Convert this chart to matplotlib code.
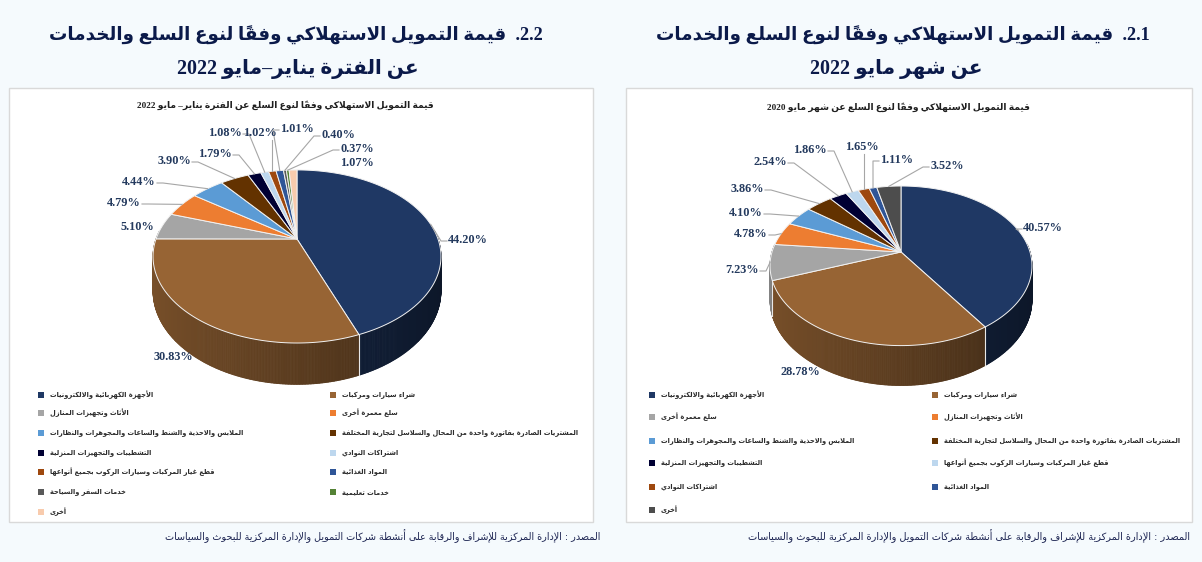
import matplotlib
matplotlib.use("Agg")
import matplotlib.pyplot as plt
import numpy as np
from matplotlib.patches import Polygon, Rectangle
from matplotlib.collections import PolyCollection
from matplotlib.colors import to_rgb

# ---------------- data ----------------
left_categories = [
    "الأجهزة الكهربائية والالكترونيات",
    "شراء سيارات ومركبات",
    "الأثاث وتجهيزات المنازل",
    "سلع معمرة أخرى",
    "الملابس والاحذية والشنط والساعات والمجوهرات والنظارات",
    "المشتريات الصادرة بفاتورة واحدة من المحال والسلاسل لتجارية المختلفة",
    "التشطيبات والتجهيزات المنزلية",
    "اشتراكات النوادي",
    "قطع غيار المركبات وسيارات الركوب بجميع أنواعها",
    "المواد الغذائية",
    "خدمات السفر والسياحة",
    "خدمات تعليمية",
    "أخرى",
]
left_values = [44.20, 30.83, 5.10, 4.79, 4.44, 3.90, 1.79, 1.08, 1.02, 1.01, 0.40, 0.37, 1.07]
left_colors = ["#1F3864", "#976434", "#A5A5A5", "#ED7D31", "#5B9BD5", "#633200",
               "#000033", "#BDD7EE", "#9E480E", "#2F5597", "#595959", "#548235", "#F8CBAD"]

right_categories = [
    "الأجهزة الكهربائية والالكترونيات",
    "شراء سيارات ومركبات",
    "سلع معمرة أخرى",
    "الأثاث وتجهيزات المنازل",
    "الملابس والاحذية والشنط والساعات والمجوهرات والنظارات",
    "المشتريات الصادرة بفاتورة واحدة من المحال والسلاسل لتجارية المختلفة",
    "التشطيبات والتجهيزات المنزلية",
    "قطع غيار المركبات وسيارات الركوب بجميع أنواعها",
    "اشتراكات النوادي",
    "المواد الغذائية",
    "أخرى",
]
right_values = [40.57, 28.78, 7.23, 4.78, 4.10, 3.86, 2.54, 1.86, 1.65, 1.11, 3.52]
right_colors = ["#1F3864", "#976434", "#A5A5A5", "#ED7D31", "#5B9BD5", "#633200",
                "#000033", "#BDD7EE", "#9E480E", "#2F5597", "#4D4D4D"]

left_heading = ["2.2.  قيمة التمويل الاستهلاكي وفقاً لنوع السلع والخدمات",
                "عن الفترة يناير–مايو 2022"]
right_heading = ["2.1.  قيمة التمويل الاستهلاكي وفقاً لنوع السلع والخدمات",
                 "عن شهر مايو 2022"]
left_chart_title = "قيمة التمويل الاستهلاكي وفقاً لنوع السلع عن الفترة يناير– مايو 2022"
right_chart_title = "قيمة التمويل الاستهلاكي وفقاً لنوع السلع عن شهر مايو 2020"
source_text = "المصدر : الإدارة المركزية للإشراف والرقابة على أنشطة شركات التمويل والإدارة المركزية للبحوث والسياسات"

# ---------------- Arabic shaping (presentation forms) + simple bidi ----------------
_D = {0x0626: 0xFE89, 0x0628: 0xFE8F, 0x062A: 0xFE95, 0x062B: 0xFE99, 0x062C: 0xFE9D,
      0x062D: 0xFEA1, 0x062E: 0xFEA5, 0x0633: 0xFEB1, 0x0634: 0xFEB5, 0x0635: 0xFEB9,
      0x0636: 0xFEBD, 0x0637: 0xFEC1, 0x0638: 0xFEC5, 0x0639: 0xFEC9, 0x063A: 0xFECD,
      0x0641: 0xFED1, 0x0642: 0xFED5, 0x0643: 0xFED9, 0x0644: 0xFEDD, 0x0645: 0xFEE1,
      0x0646: 0xFEE5, 0x0647: 0xFEE9, 0x064A: 0xFEF1}
_R = {0x0622: 0xFE81, 0x0623: 0xFE83, 0x0624: 0xFE85, 0x0625: 0xFE87, 0x0627: 0xFE8D,
      0x0629: 0xFE93, 0x062F: 0xFEA9, 0x0630: 0xFEAB, 0x0631: 0xFEAD, 0x0632: 0xFEAF,
      0x0648: 0xFEED, 0x0649: 0xFEEF}
_LA = {0x0622: 0xFEF5, 0x0623: 0xFEF7, 0x0625: 0xFEF9, 0x0627: 0xFEFB}


def _jt(c):
    o = ord(c)
    if o in _D or o == 0x0640:
        return "D"
    if o in _R:
        return "R"
    if 0x064B <= o <= 0x065F or o == 0x0670:
        return "T"
    return "U"


def _shape(s):
    toks = []
    for c in s:
        t = _jt(c)
        if t == "T" and toks:
            toks[-1][1] += c
            continue
        toks.append([c, "", t])
    merged = []
    k = 0
    while k < len(toks):
        b, m, t = toks[k]
        if ord(b) == 0x0644 and k + 1 < len(toks) and ord(toks[k + 1][0]) in _LA:
            merged.append(["LA" + toks[k + 1][0], m + toks[k + 1][1], "R"])
            k += 2
            continue
        merged.append([b, m, t])
        k += 1
    out = []
    for k, (b, m, t) in enumerate(merged):
        pt = merged[k - 1][2] if k > 0 else "U"
        nt = merged[k + 1][2] if k + 1 < len(merged) else "U"
        jp = t in "DR" and pt == "D"
        jn = t == "D" and nt in "DR"
        if b.startswith("LA"):
            g = chr(_LA[ord(b[2])] + (1 if jp else 0))
        else:
            o = ord(b)
            if o in _D:
                idx = 3 if (jp and jn) else 1 if jp else 2 if jn else 0
                g = chr(_D[o] + idx)
            elif o in _R:
                g = chr(_R[o] + (1 if jp else 0))
            elif o == 0x0621:
                g = "\uFE80"
            else:
                g = b
        out.append(g + m)
    return out


def _ltr(c):
    return c.isascii() and (c.isalnum() or c == "%")


def ar(s):
    cl = _shape(s)
    n = len(cl)
    cls = []
    for i, c in enumerate(cl):
        ch = c[0]
        if _ltr(ch):
            cls.append("L")
        elif ch in ".," and 0 < i < n - 1 and _ltr(cl[i - 1][0]) and cl[i + 1][0].isdigit():
            cls.append("L")
        else:
            cls.append("R")
    runs = []
    for c, t in zip(cl, cls):
        if runs and runs[-1][0] == t:
            runs[-1][1].append(c)
        else:
            runs.append([t, [c]])
    res = ""
    for t, cs in reversed(runs):
        res += "".join(cs) if t == "L" else "".join(reversed(cs))
    return res


# ---------------- figure ----------------
W, H = 1202, 562
fig = plt.figure(figsize=(W / 100, H / 100), dpi=100, facecolor="#F5FAFD")
ax = fig.add_axes([0, 0, 1, 1])
ax.set_xlim(0, W)
ax.set_ylim(H, 0)
ax.axis("off")
renderer = fig.canvas.get_renderer()

SERIF_AR = ["Liberation Serif", "DejaVu Sans"]


def fit_text(x, y, s, width, size, ha="center", maxsize=None, **kw):
    t = ax.text(x, y, s, fontsize=size, ha=ha, va="center", **kw)
    w = t.get_window_extent(renderer).width
    ns = size * width / max(w, 1)
    if maxsize is not None:
        ns = min(ns, maxsize)
    t.set_fontsize(ns)
    return t


# panels
ax.add_patch(Rectangle((9, 88), 584, 434, fc="white", ec="#D9D9D9", lw=1.0, zorder=1))
ax.add_patch(Rectangle((626, 88), 566, 434, fc="white", ec="#D9D9D9", lw=1.0, zorder=1))

# headings
TCOL = "#0B1A4A"
fit_text(543, 35, ar(left_heading[0]), 494, 18, ha="right", family=SERIF_AR,
         weight="heavy", color=TCOL)
fit_text(298, 69, ar(left_heading[1]), 242, 18, ha="center", family=SERIF_AR,
         weight="heavy", color=TCOL)
fit_text(1150, 35, ar(right_heading[0]), 494, 18, ha="right", family=SERIF_AR,
         weight="heavy", color=TCOL)
fit_text(896, 69, ar(right_heading[1]), 172, 18, ha="center", family=SERIF_AR,
         weight="heavy", color=TCOL)

# chart titles
fit_text(285, 105, ar(left_chart_title), 300, 9, family=SERIF_AR, weight="bold", color="#1F1F1F")
fit_text(898, 107, ar(right_chart_title), 264, 9, family=SERIF_AR, weight="bold", color="#1F1F1F")

# source
fit_text(600, 536, ar(source_text), 437, 8, ha="right", family=["DejaVu Sans"], color="#1C2452")
fit_text(1190, 536, ar(source_text), 442, 8, ha="right", family=["DejaVu Sans"], color="#1C2452")


# ---------------- 3D pie ----------------
def draw_pie(values, colors, geom, layout):
    cx, cy, B, A, k, D = geom

    def P(phi, z=0.0):
        u, v = np.cos(phi), np.sin(phi)
        den = 1 + k * v
        return (cx + B * u / den, cy - A * v / den + z * D / den)

    vals = np.asarray(values, dtype=float)
    fr = vals / vals.sum()
    starts = np.pi / 2 - 2 * np.pi * np.concatenate([[0], np.cumsum(fr)[:-1]])
    ends = starts - 2 * np.pi * fr

    quads = []
    for s, e, col in zip(starts, ends, colors):
        nseg = max(2, int(np.degrees(s - e) / 0.5))
        ph = np.linspace(s, e, nseg + 1)
        base = np.array(to_rgb(col))
        for a, b in zip(ph[:-1], ph[1:]):
            m = 0.5 * (a + b)
            v = np.sin(m)
            if v > 0.1:
                continue
            shade = 0.6 - 0.2 * np.cos(m)
            c = np.clip(base * shade, 0, 1)
            quads.append((v, [P(a), P(b), P(b, 1), P(a, 1)], c))
    quads.sort(key=lambda q: -q[0])
    pc = PolyCollection([q[1] for q in quads], facecolors=[q[2] for q in quads],
                        edgecolors=[q[2] for q in quads], linewidths=0.6, zorder=3)
    ax.add_collection(pc)
    # slice boundaries on side wall
    for s in starts:
        if np.sin(s) < -0.2:
            (x0, y0), (x1, y1) = P(s), P(s, 1)
            ax.plot([x0, x1], [y0, y1], color="#E8E8E8", lw=0.8, zorder=4)
    # top face
    for s, e, col in zip(starts, ends, colors):
        nseg = max(2, int(np.degrees(s - e) / 0.5))
        ph = np.linspace(s, e, nseg + 1)
        pts = [(cx, cy)] + [P(a) for a in ph]
        ax.add_patch(Polygon(pts, closed=True, fc=col, ec="#F2F2F2", lw=0.7, zorder=5))

    # labels
    for val, s, e, (lx, ly, lead) in zip(vals, starts, ends, layout):
        ax.text(lx, ly, f"{val:.2f}%", ha="center", va="center", fontsize=8.8,
                family=["Liberation Serif"], weight="bold", color="#243A5E", zorder=7)
        if lead:
            ax_, ay_ = P(0.5 * (s + e))
            hw = 17 if val < 10 else 20
            if ax_ > lx + hw:
                sx, sy = lx + hw + 1, ly + 1
                ex = sx + 6
            elif ax_ < lx - hw:
                sx, sy = lx - hw - 1, ly + 1
                ex = sx - 6
            else:
                sx, sy = ax_ if abs(ax_ - lx) < hw else lx, ly + 7
                ex = sx
            ax.plot([sx, ex, ax_], [sy, sy, ay_], color="#A6A6A6", lw=0.8, zorder=6)


left_geom = (297, 239, 141, 83, 0.202, 33)
right_geom = (901, 252, 129, 77.4, 0.173, 33)
left_layout = [(468, 240, True), (173, 357, False), (137, 227, False), (124, 203, True),
               (139, 182, True), (174, 161, True), (215, 154, True), (225, 133, True),
               (260, 133, True), (297, 129, True), (338, 135, True), (357, 149, True),
               (357, 163, False)]
right_layout = [(1043, 228, True), (800, 372, False), (742, 270, True), (751, 234, True),
                (746, 213, True), (747, 189, True), (770, 162, True), (810, 150, True),
                (862, 147, True), (897, 160, True), (947, 166, True)]

draw_pie(left_values, left_colors, left_geom, left_layout)
draw_pie(right_values, right_colors, right_geom, right_layout)


# ---------------- legends ----------------
def draw_legend(cats, colors, xs, ys, textw):
    size = None
    for i, (cat, col) in enumerate(zip(cats, colors)):
        r, c = divmod(i, 2)
        x, y = xs[c], ys[r]
        ax.add_patch(Rectangle((x - 3, y - 3), 6, 6, fc=col, ec="none", zorder=5))
        t = ax.text(x + 9, y, ar(cat), ha="left", va="center", fontsize=7,
                    family=["DejaVu Sans"], weight="bold", color="#2B2B2B", zorder=5)
        if i == 0:
            w = t.get_window_extent(renderer).width
            size = 7 * textw / w
        t.set_fontsize(size)


draw_legend(left_categories, left_colors, [41, 333], [395, 413, 433, 453, 472, 492, 512], 104)
draw_legend(right_categories, right_colors, [652, 935], [395, 417, 441, 463, 487, 510], 104)

fig.savefig("out.png", dpi=100, facecolor=fig.get_facecolor())
